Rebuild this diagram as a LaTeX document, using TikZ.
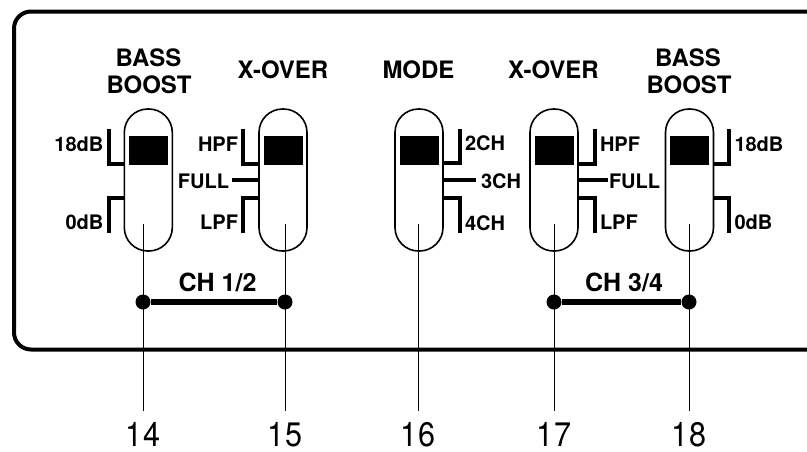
\documentclass[tikz,border=0pt]{standalone}
\usepackage{fontspec}
\setmainfont{TeX Gyre Heros}
\usetikzlibrary{calc}
\begin{document}
\begin{tikzpicture}[x=1pt,y=-1pt,
  capsule/.style={draw, line width=1.6pt, minimum width=48pt, minimum height=142pt, rounded corners=23.5pt, inner sep=0pt},
  title/.style={font=\bfseries\fontsize{24}{28}\selectfont, inner sep=0pt, anchor=base},
  lbl/.style={font=\bfseries\fontsize{20}{24}\selectfont, inner sep=0pt},
  chlbl/.style={font=\bfseries\fontsize{25}{30}\selectfont, inner sep=0pt, anchor=base},
  num/.style={font=\fontsize{34}{40}\selectfont, inner sep=0pt, anchor=base},
  bracket/.style={line width=4pt, line join=miter},
  lead/.style={line width=0.9pt},
  link/.style={line width=6pt},
  dot/.style={circle, fill, inner sep=0pt, minimum size=15pt}]
\useasboundingbox (0,0) rectangle (807,451);
\clip (0,0) rectangle (807,451);
\fill[white] (0,0) rectangle (807,451);

% panel frame
\draw[line width=4pt, rounded corners=17pt] (830,11.5) -- (14,11.5) -- (14,349.5) -- (830,349.5);

% switches
\node[capsule] (s1) at (148.3,180) {};
\node[capsule] (s2) at (283,180) {};
\node[capsule] (s3) at (419,180) {};
\node[capsule] (s4) at (554,180) {};
\node[capsule] (s5) at (689.5,180) {};
\foreach \s in {s1,s2,s3,s4,s5}{
  \fill ($(\s.center)+(-19.5,-44)$) rectangle ($(\s.center)+(19.5,-15)$);
}

% titles
\node[title] (t1a) at (148.5,66) {BASS};
\node[title] (t1b) at (149,93) {BOOST};
\node[title] (t2) at (283,78) {X-OVER};
\node[title] (t3) at (418.5,78) {MODE};
\node[title] (t4) at (553.5,78) {X-OVER};
\node[title] (t5a) at (688,66) {BASS};
\node[title] (t5b) at (689,93) {BOOST};

% left-side indicators: switch 1
\draw[bracket] ($(s1.west)+(-15,-51)$) -- ($(s1.west)+(-15,-16)$) -- ($(s1.west)+(0,-16)$);
\draw[bracket] ($(s1.west)+(0,18)$) -- ($(s1.west)+(-15,18)$) -- ($(s1.west)+(-15,53)$);
\node[lbl, anchor=base east] (a18) at ($(s1.west)+(-20,-29)$) {18dB};
\node[lbl, anchor=base east] (a0) at ($(s1.west)+(-20,49)$) {0dB};

% switch 2
\draw[bracket] ($(s2.west)+(-15,-51)$) -- ($(s2.west)+(-15,-16)$) -- ($(s2.west)+(0,-16)$);
\draw[bracket] ($(s2.west)+(0,18)$) -- ($(s2.west)+(-15,18)$) -- ($(s2.west)+(-15,53)$);
\draw[bracket] (s2.west) -- ++(-26,0);
\node[lbl, anchor=base east] (bh) at ($(s2.west)+(-20,-29)$) {HPF};
\node[lbl, anchor=base east] (bf) at ($(s2.west)+(-29,8)$) {FULL};
\node[lbl, anchor=base east] (bl) at ($(s2.west)+(-20,49)$) {LPF};

% switch 3 (right side)
\draw[bracket] ($(s3.east)+(0,-17)$) -- ($(s3.east)+(16,-17)$) -- ($(s3.east)+(16,-51)$);
\draw[bracket] ($(s3.east)+(0,17.5)$) -- ($(s3.east)+(16,17.5)$) -- ($(s3.east)+(16,53)$);
\draw[bracket] (s3.east) -- ++(32,0);
\node[lbl, anchor=base west] (c2) at ($(s3.east)+(21,-30)$) {2CH};
\node[lbl, anchor=base west] (c3) at ($(s3.east)+(37,8)$) {3CH};
\node[lbl, anchor=base west] (c4) at ($(s3.east)+(21,50)$) {4CH};

% switch 4
\draw[bracket] ($(s4.east)+(0,-16)$) -- ($(s4.east)+(16,-16)$) -- ($(s4.east)+(16,-51)$);
\draw[bracket] ($(s4.east)+(0,18)$) -- ($(s4.east)+(16,18)$) -- ($(s4.east)+(16,53)$);
\draw[bracket] (s4.east) -- ++(29,0);
\node[lbl, anchor=base west] (dh) at ($(s4.east)+(21,-29)$) {HPF};
\node[lbl, anchor=base west] (df) at ($(s4.east)+(30,8)$) {FULL};
\node[lbl, anchor=base west] (dl) at ($(s4.east)+(21,49)$) {LPF};

% switch 5
\draw[bracket] ($(s5.east)+(0,-16)$) -- ($(s5.east)+(15,-16)$) -- ($(s5.east)+(15,-51)$);
\draw[bracket] ($(s5.east)+(0,18)$) -- ($(s5.east)+(15,18)$) -- ($(s5.east)+(15,53)$);
\node[lbl, anchor=base west] (e18) at ($(s5.east)+(20,-29)$) {18dB};
\node[lbl, anchor=base west] (e0) at ($(s5.east)+(20,49)$) {0dB};

% leader lines and numbers
\coordinate (k14) at (143,224);
\coordinate (k15) at (285,224);
\coordinate (k16) at (418,224);
\coordinate (k17) at (554,224);
\coordinate (k18) at (689,224);
\foreach \n in {14,15,16,17,18}{
  \node[num] (n\n) at (k\n |- 0,446.5) {\scalebox{0.9}[1]{\n}};
  \draw[lead, shorten >=11pt] (k\n) -- (n\n.north);
}

% channel links
\path (k14) ++(0,78) node[dot] (d14) {};
\path (k15) ++(0,78) node[dot] (d15) {};
\path (k17) ++(0,78) node[dot] (d17) {};
\path (k18) ++(0,78) node[dot] (d18) {};
\draw[link] (d14) -- (d15);
\draw[link] (d17) -- (d18);
\node[chlbl] (ch12) at ($(d14)!0.5!(d15)+(3.5,-10.5)$) {CH 1/2};
\node[chlbl] (ch34) at ($(d17)!0.5!(d18)+(2.5,-10.5)$) {CH 3/4};
\end{tikzpicture}
\end{document}
